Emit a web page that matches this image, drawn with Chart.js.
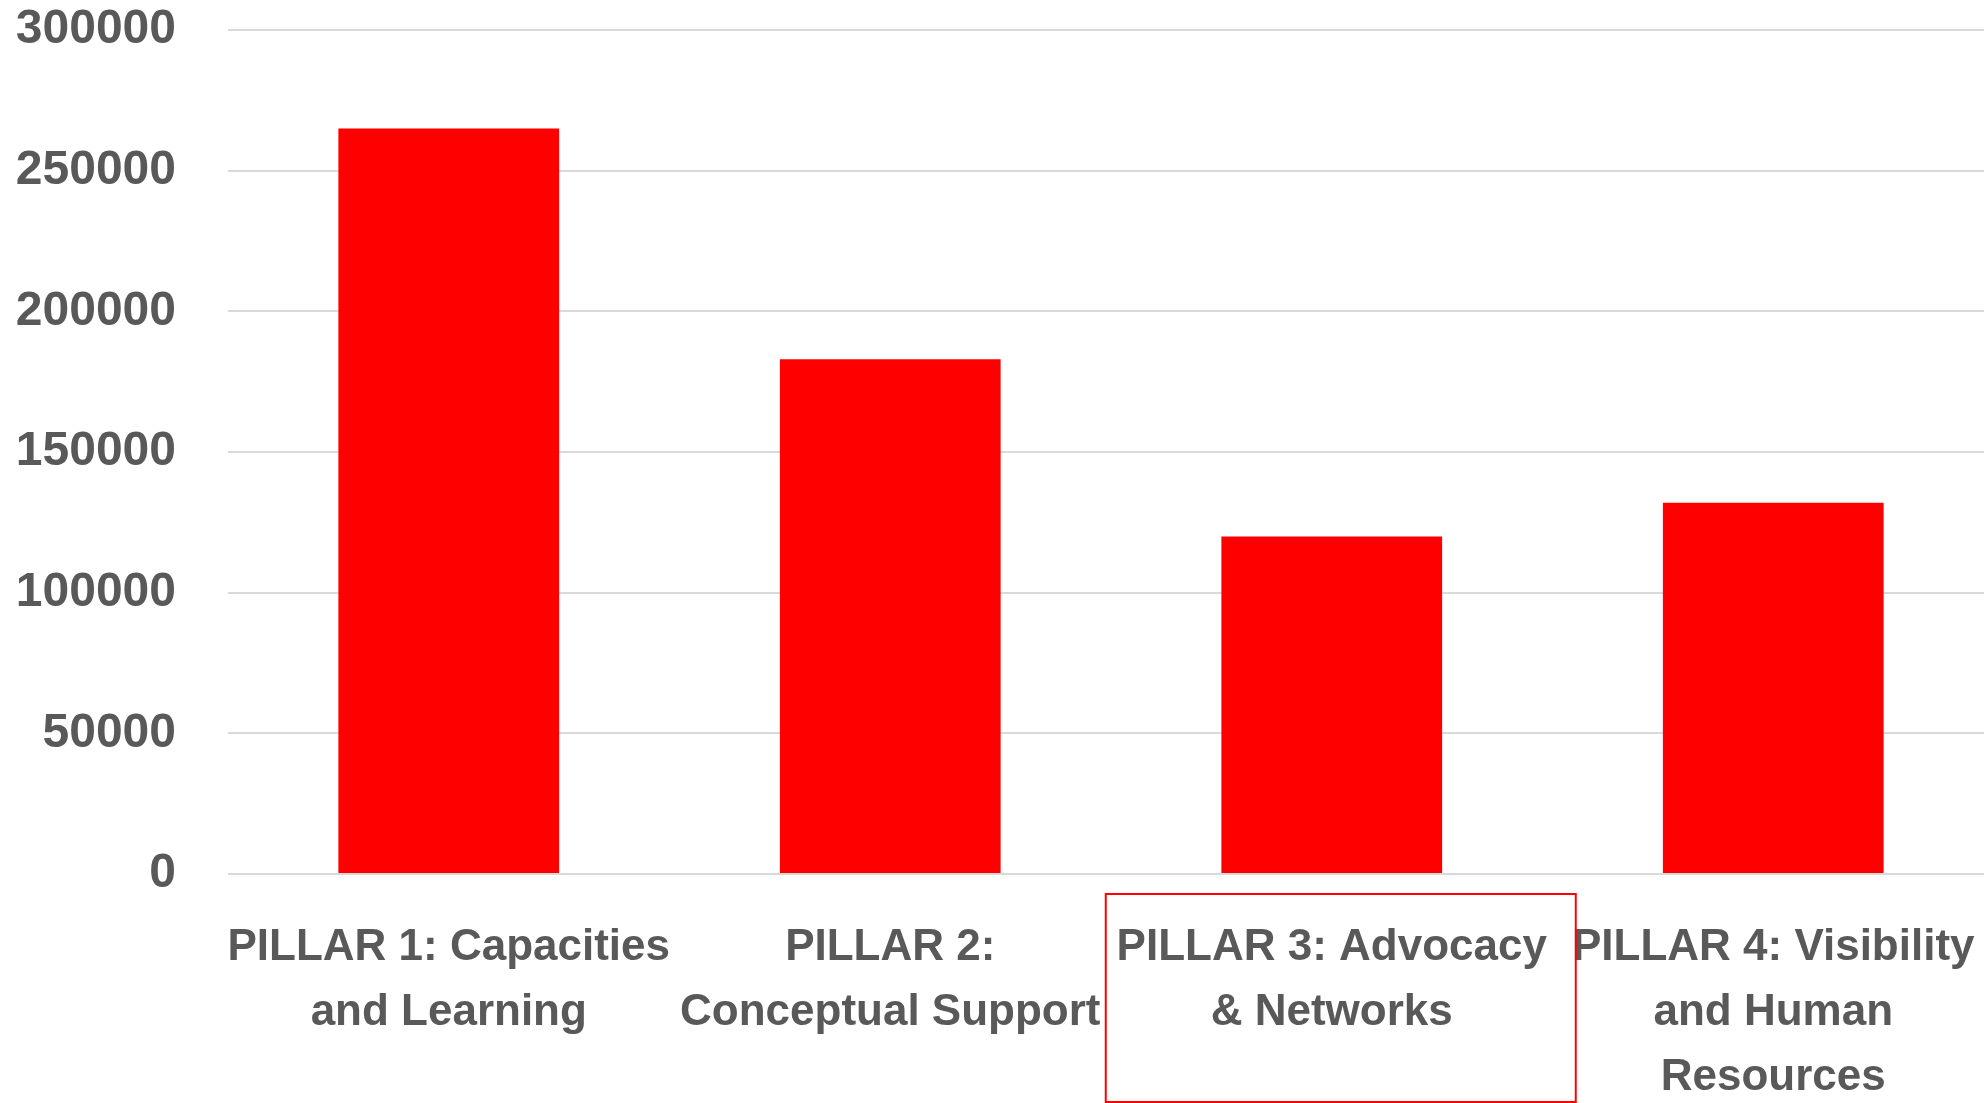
<!DOCTYPE html>
<html>
<head>
<meta charset="utf-8">
<title>Pillars</title>
<script src="https://cdn.jsdelivr.net/npm/chart.js@4/dist/chart.umd.min.js"></script>
<style>
  html, body { margin: 0; padding: 0; background: #fff; overflow: hidden; }
  /* plot runs slightly past the right edge, like the original */
  #wrap { width: 1994px; height: 1103px; position: relative; }
</style>
</head>
<body>
<div id="wrap"><canvas id="chart"></canvas></div>
<script>
  // categories (multi-line labels as in the original)
  const pillarLabels = [
    ['PILLAR 1: Capacities', 'and Learning'],
    ['PILLAR 2:', 'Conceptual Support'],
    ['PILLAR 3: Advocacy', '& Networks'],
    ['PILLAR 4: Visibility', 'and Human', 'Resources']
  ];
  // amounts
  const pillarValues = [265000, 183000, 120000, 132000];
  const yMin = 0, yMax = 300000, yStep = 50000;
  const highlightIndex = 2; // the boxed category

  const textGrey = '#595959';

  // red outline around the highlighted category label
  const boxPlugin = {
    id: 'boxLabel',
    afterDraw(chart) {
      const x = chart.scales.x, y = chart.scales.y, ctx = chart.ctx;
      const cx = x.getPixelForValue(highlightIndex) + 9;
      const half = 235;
      const top = y.bottom + 20;
      const bottom = chart.height - 1;
      ctx.save();
      ctx.strokeStyle = '#ff0000';
      ctx.lineWidth = 2;
      ctx.strokeRect(cx - half, top, half * 2, bottom - top);
      ctx.restore();
    }
  };

  new Chart(document.getElementById('chart'), {
    type: 'bar',
    data: {
      labels: pillarLabels,
      datasets: [{
        data: pillarValues,
        backgroundColor: '#ff0000',
        borderWidth: 0,
        barPercentage: 0.5,
        categoryPercentage: 1.0
      }]
    },
    options: {
      responsive: true,
      maintainAspectRatio: false,
      animation: false,
      layout: { padding: { top: 30, right: 0, left: 0, bottom: 0 } },
      plugins: {
        legend: { display: false },
        tooltip: { enabled: false },
        title: { display: false }
      },
      scales: {
        x: {
          grid: { display: false },
          border: { display: false },
          ticks: {
            color: textGrey,
            font: { family: "'Liberation Sans', Arial, sans-serif", size: 44, weight: 'bold', lineHeight: 1.48 },
            padding: 33,
            autoSkip: false,
            maxRotation: 0,
            minRotation: 0
          },
          afterFit(s) { s.height = 229; s.paddingLeft = 0; s.paddingRight = 0; }
        },
        y: {
          min: yMin,
          max: yMax,
          grid: { color: '#d9d9d9', lineWidth: 2, drawTicks: false },
          border: { display: false },
          ticks: {
            stepSize: yStep,
            color: textGrey,
            font: { family: "'Liberation Sans', Arial, sans-serif", size: 48, weight: 'bold' },
            padding: 52,
            callback: v => String(v)
          },
          afterFit(s) { s.width = 228; s.paddingTop = 0; s.paddingBottom = 0; }
        }
      }
    },
    plugins: [boxPlugin]
  });
</script>
</body>
</html>
